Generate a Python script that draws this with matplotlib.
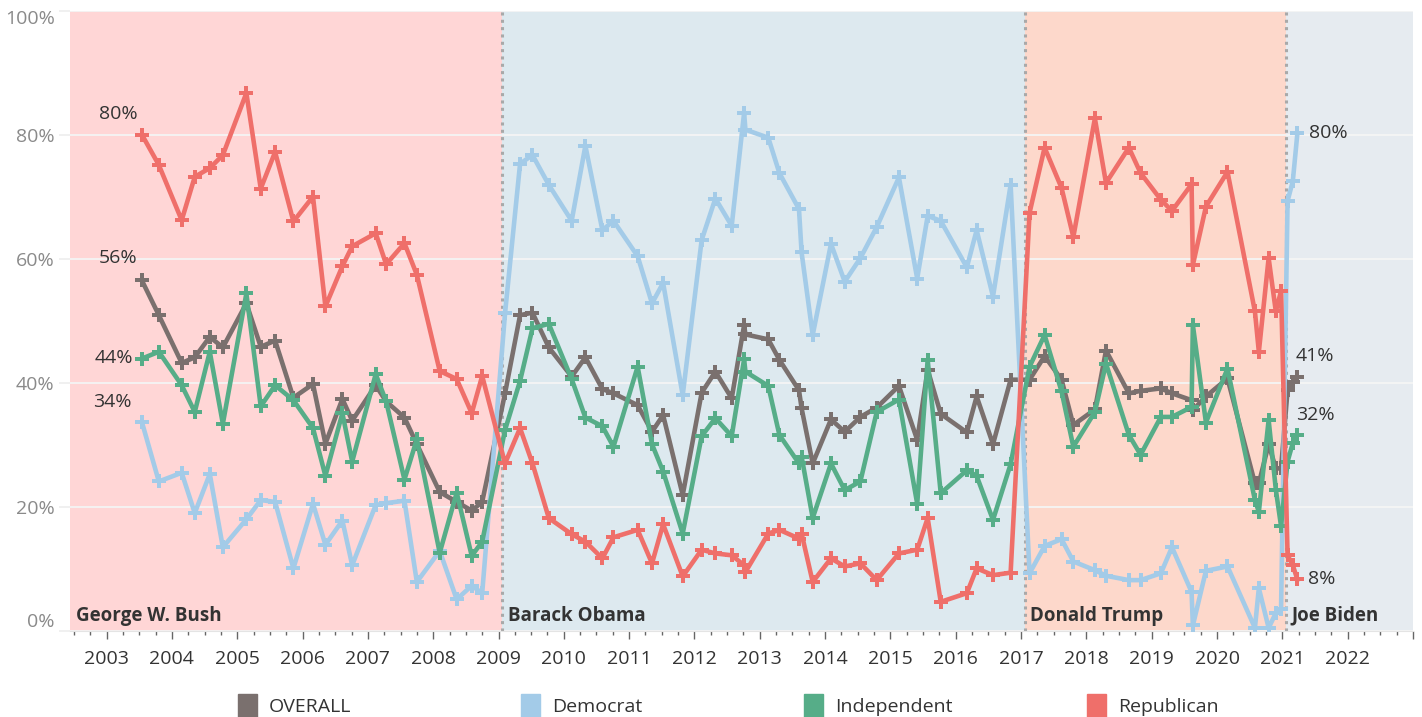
import matplotlib.pyplot as plt
from matplotlib.patches import Rectangle

plt.rcParams['font.family'] = ['Open Sans', 'DejaVu Sans']

# poll dates (decimal years) and approval shares (%)
dates = [2003.54, 2003.80, 2004.15, 2004.35, 2004.58, 2004.78, 2005.14, 2005.36, 2005.58, 2005.86,
         2006.16, 2006.35, 2006.61, 2006.76, 2007.12, 2007.28, 2007.56, 2007.75, 2008.10, 2008.36,
         2008.59, 2008.75,
         2009.10, 2009.33, 2009.52, 2009.77, 2010.12, 2010.33, 2010.59, 2010.76, 2011.13, 2011.35,
         2011.52, 2011.82, 2012.11, 2012.32, 2012.57, 2012.76, 2012.78, 2013.13, 2013.30, 2013.60,
         2013.64, 2013.81, 2014.09, 2014.30, 2014.54, 2014.79, 2015.13, 2015.41, 2015.57, 2015.77,
         2016.17, 2016.32, 2016.57, 2016.84,
         2017.13, 2017.36, 2017.62, 2017.80, 2018.13, 2018.30, 2018.65, 2018.83, 2019.14, 2019.31,
         2019.61, 2019.63, 2019.83, 2020.16, 2020.58, 2020.64, 2020.79, 2020.90, 2020.98,
         2021.08, 2021.16, 2021.23]

overall = [56.5, 50.9, 43.2, 44.1, 47.4, 45.7, 52.8, 45.8, 46.8, 37.6, 39.8, 30.2, 37.4, 33.9,
           39.6, 37.0, 34.4, 30.1, 22.4, 20.8, 19.4, 20.8,
           38.3, 50.9, 51.3, 45.7, 41.0, 44.1, 39.0, 38.3, 36.4, 32.1, 34.8, 21.9, 38.4, 41.8,
           37.5, 49.3, 47.8, 47.0, 43.7, 38.8, 35.9, 27.0, 34.1, 32.1, 34.5, 36.0, 39.5, 30.8,
           42.1, 35.0, 32.0, 37.8, 30.1, 40.5,
           40.5, 44.3, 40.5, 33.2, 35.7, 45.2, 38.3, 38.7, 39.1, 38.3, 37.2, 35.6, 37.8, 40.7,
           23.8, 23.8, 30.1, 26.2, 26.2,
           38.8, 40.2, 40.9]

democrat = [33.7, 24.1, 25.5, 19.0, 25.3, 13.5, 18.0, 21.1, 20.8, 10.1, 20.5, 13.9, 17.8, 10.6,
            20.3, 20.6, 21.0, 7.9, 12.9, 5.1, 7.3, 6.1,
            51.2, 75.3, 76.7, 71.9, 66.1, 78.2, 64.6, 66.1, 60.4, 52.8, 56.1, 38.0, 63.0, 69.7,
            65.3, 83.5, 80.8, 79.5, 73.8, 68.0, 61.0, 47.7, 62.4, 56.3, 60.1, 65.1, 73.1, 56.8,
            66.9, 66.1, 58.6, 64.6, 53.9, 71.9,
            9.3, 13.7, 14.8, 11.2, 9.8, 8.9, 8.2, 8.2, 9.3, 13.5, 6.3, 0.9, 9.7, 10.4,
            0.5, 6.9, 0.5, 2.9, 3.5,
            69.3, 72.5, 80.2]

independent = [43.9, 45.0, 39.6, 35.3, 45.0, 33.4, 54.4, 36.2, 39.6, 37.2, 32.7, 25.0, 35.1, 27.3,
               41.4, 37.0, 24.4, 30.9, 12.6, 22.3, 12.1, 14.4,
               32.4, 40.3, 48.8, 49.5, 40.6, 34.4, 33.0, 29.7, 42.6, 30.1, 25.7, 15.7, 31.4, 34.3,
               31.4, 43.8, 41.8, 39.5, 31.6, 27.0, 28.1, 18.2, 27.0, 22.7, 24.1, 35.3, 37.3, 20.5,
               43.7, 22.2, 25.9, 25.0, 17.9, 26.9,
               42.6, 47.7, 38.6, 29.7, 35.3, 43.1, 31.6, 28.4, 34.5, 34.5, 36.1, 49.3, 33.6, 42.3,
               21.1, 19.2, 34.0, 22.8, 16.9,
               27.3, 30.3, 31.6]

republican = [80.0, 75.1, 66.2, 73.2, 74.6, 76.7, 86.7, 71.3, 77.2, 66.0, 70.0, 52.3, 58.8, 62.0,
              64.1, 59.1, 62.5, 57.4, 41.9, 40.6, 35.1, 41.1,
              27.0, 32.7, 27.0, 18.2, 15.6, 14.4, 11.7, 15.1, 16.3, 10.9, 17.2, 8.8, 13.1, 12.5,
              12.2, 10.6, 9.5, 15.7, 16.3, 14.9, 15.7, 7.9, 11.7, 10.4, 10.9, 8.2, 12.5, 13.1,
              18.2, 4.7, 6.1, 10.1, 9.0, 9.4,
              67.4, 77.9, 71.4, 63.5, 82.6, 72.2, 77.9, 73.8, 69.5, 67.7, 72.0, 59.0, 68.4, 74.0,
              51.5, 45.0, 60.1, 51.5, 54.8,
              12.2, 10.6, 8.3]

series_names = ['OVERALL', 'Democrat', 'Independent', 'Republican']
series_values = [overall, democrat, independent, republican]
series_colors = ['#7a706e', '#a3cbe8', '#56ad88', '#ef6f6a']

presidents = ['George W. Bush', 'Barack Obama', 'Donald Trump', 'Joe Biden']
term_starts = [2002.44, 2009.055, 2017.055, 2021.055]
term_colors = ['#ffd6d6', '#dde9ef', '#fdd8cb', '#e6ebf0']

years = list(range(2003, 2024))
x_min, x_max = 2002.44, 2023.0
fs = 14

fig = plt.figure(figsize=(14.22, 7.17), dpi=100)
ax = fig.add_axes([70 / 1422, 86 / 717, 1343 / 1422, 620.5 / 717])

# presidency bands
ends = term_starts[1:] + [x_max]
for name, start, end, col in zip(presidents, term_starts, ends, term_colors):
    ax.axvspan(start, end, color=col, zorder=0, lw=0)
    ax.annotate(name, xy=(start, 0), xycoords=('data', 'axes fraction'),
                xytext=(4, 11), textcoords='offset points', ha='left', va='center',
                fontsize=fs - 0.5, fontweight='bold', color='#333333')
for start in term_starts[1:]:
    ax.axvline(start, color='#a9a9a9', lw=2.2, ls=(0, (1, 1.4)), zorder=1)

# lines
for name, vals, col in zip(series_names, series_values, series_colors):
    ax.plot(dates, vals, color=col, lw=3.3, marker='P', markersize=9.5,
            markeredgewidth=0, zorder=3, label=name)

# start / end labels
lab_kw = dict(textcoords='offset points', fontsize=fs, color='#333333', va='center')
ax.annotate(f'{republican[0]:.0f}%', (dates[0], republican[0]), xytext=(-17, 15), ha='center', **lab_kw)
ax.annotate(f'{overall[0]:.0f}%', (dates[0], overall[0]), xytext=(-17, 16), ha='center', **lab_kw)
ax.annotate(f'{independent[0]:.0f}%', (dates[0], independent[0]), xytext=(-6, 0.5), ha='right', **lab_kw)
ax.annotate(f'{democrat[0]:.0f}%', (dates[0], democrat[0]), xytext=(-21, 14), ha='center', **lab_kw)
ax.annotate(f'{democrat[-1]:.0f}%', (dates[-1], democrat[-1]), xytext=(8.5, 0), ha='left', **lab_kw)
ax.annotate(f'{overall[-1]:.0f}%', (dates[-1], overall[-1]), xytext=(-1, 15), ha='left', **lab_kw)
ax.annotate(f'{independent[-1]:.0f}%', (dates[-1], independent[-1]), xytext=(-1, 14), ha='left', **lab_kw)
ax.annotate(f'{republican[-1]:.0f}%', (dates[-1], republican[-1]), xytext=(7.5, 0), ha='left', **lab_kw)

# axes
ax.set_xlim(x_min, x_max)
ax.set_ylim(0, 100)
ax.set_xticks(years)
ax.set_xticklabels([str(y) if y < 2023 else '' for y in years])
ax.set_xticks([y + q / 4 for y in range(2002, 2023) for q in (1, 2, 3)
               if x_min < y + q / 4 < x_max], minor=True)
ax.tick_params(axis='x', which='major', length=6, width=1, color='#666666',
               labelsize=fs, labelcolor='#333333', pad=8)
ax.tick_params(axis='x', which='minor', length=3, width=1, color='#666666')

yt = [0, 20, 40, 60, 80, 100]
ax.set_yticks(yt)
ax.set_yticklabels([f'{v}%' for v in yt])
ax.tick_params(axis='y', length=8, width=1.2, color='#eeeeee', labelsize=fs,
               labelcolor='#8a8a8a', pad=3)
ylabs = ax.get_yticklabels()
ylabs[0].set_va('bottom')
ylabs[-1].set_va('top')

ax.yaxis.grid(True, color='#f5f5f5', lw=1.3, zorder=1)
ax.set_axisbelow(True)
for side in ['top', 'right', 'left']:
    ax.spines[side].set_visible(False)
ax.spines['bottom'].set_color('#e4e4e4')

# legend
leg_x = [238, 521, 804, 1087]
for x0, name, col in zip(leg_x, series_names, series_colors):
    fig.patches.append(Rectangle((x0 / 1422, 0), 19 / 1422, 23 / 717,
                                 transform=fig.transFigure, color=col))
    fig.text((x0 + 31) / 1422, 10 / 717, name, fontsize=fs, color='#333333',
             va='center', ha='left')

fig.savefig('out.png', dpi=100)
